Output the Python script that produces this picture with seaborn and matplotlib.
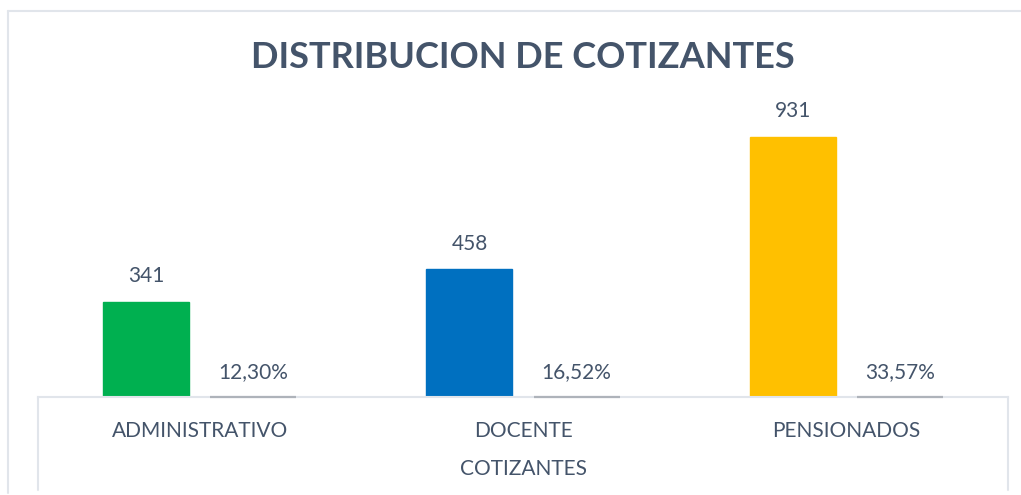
import pandas as pd
import matplotlib.pyplot as plt
from matplotlib.lines import Line2D
import seaborn as sns

# Datos
categorias = ['ADMINISTRATIVO', 'DOCENTE', 'PENSIONADOS']
cantidad = [341, 458, 931]
porcentaje = [0.1230, 0.1652, 0.3357]
etiquetas_pct = ['12,30%', '16,52%', '33,57%']
colores_cat = ['#00B050', '#0070C0', '#FFC000']

df = pd.DataFrame({
    'categoria': categorias * 2,
    'serie': ['Cantidad'] * 3 + ['Porcentaje'] * 3,
    'valor': cantidad + porcentaje,
})

sns.set_style('white')
plt.rcParams['font.family'] = ['Lato', 'DejaVu Sans']
texto = '#44546A'
borde = '#E1E5EB'

fig = plt.figure(figsize=(10.21, 4.95), dpi=100)
W, H = 1021, 495
ax = fig.add_axes([38 / W, (H - 397) / H, (1008 - 38) / W, (397 - 100) / H])

sns.barplot(data=df, x='categoria', y='valor', hue='serie',
            palette={'Cantidad': '#A5A5A5', 'Porcentaje': '#A5A5A5'},
            width=0.6625, gap=0.197, legend=False, ax=ax)

# colores por categoria para la primera serie
for patch, c in zip(ax.containers[0], colores_cat):
    patch.set_facecolor(c)
    patch.set_edgecolor(c)
for patch in ax.containers[1]:
    patch.set_edgecolor('#AEB3BA')
    patch.set_linewidth(1.6)
    patch.set_zorder(4)
    patch.set_clip_on(False)

ax.bar_label(ax.containers[0], labels=[str(v) for v in cantidad],
             padding=11, fontsize=15, color=texto)
ax.bar_label(ax.containers[1], labels=etiquetas_pct,
             padding=11, fontsize=15, color=texto)

ax.set_xlim(-0.5, 2.5)
ax.set_ylim(0, 297 / 0.2797)
ax.set_xlabel('')
ax.set_ylabel('')
ax.set_yticks([])
ax.tick_params(axis='x', length=0, pad=17, labelsize=15, labelcolor=texto)
for s in ['top', 'left', 'right']:
    ax.spines[s].set_visible(False)
ax.spines['bottom'].set_color(borde)
ax.spines['bottom'].set_linewidth(1.5)
ax.spines['bottom'].set_zorder(1)

# bordes de la tabla y marco exterior
def linea(x0, y0, x1, y1):
    fig.add_artist(Line2D([x0 / W, x1 / W], [1 - y0 / H, 1 - y1 / H],
                          color=borde, linewidth=1.5))

linea(38, 397, 38, 490)
linea(1008, 397, 1008, 490)
linea(8, 11, 8, 493)
linea(8, 11, 1021, 11)

fig.text(523 / W, 1 - 58 / H, 'DISTRIBUCION DE COTIZANTES', ha='center', va='center',
         fontsize=26, fontweight='bold', color=texto)
fig.text(523 / W, 1 - 469 / H, 'COTIZANTES', ha='center', va='center',
         fontsize=15, color=texto)

fig.savefig('out.png', dpi=100)
